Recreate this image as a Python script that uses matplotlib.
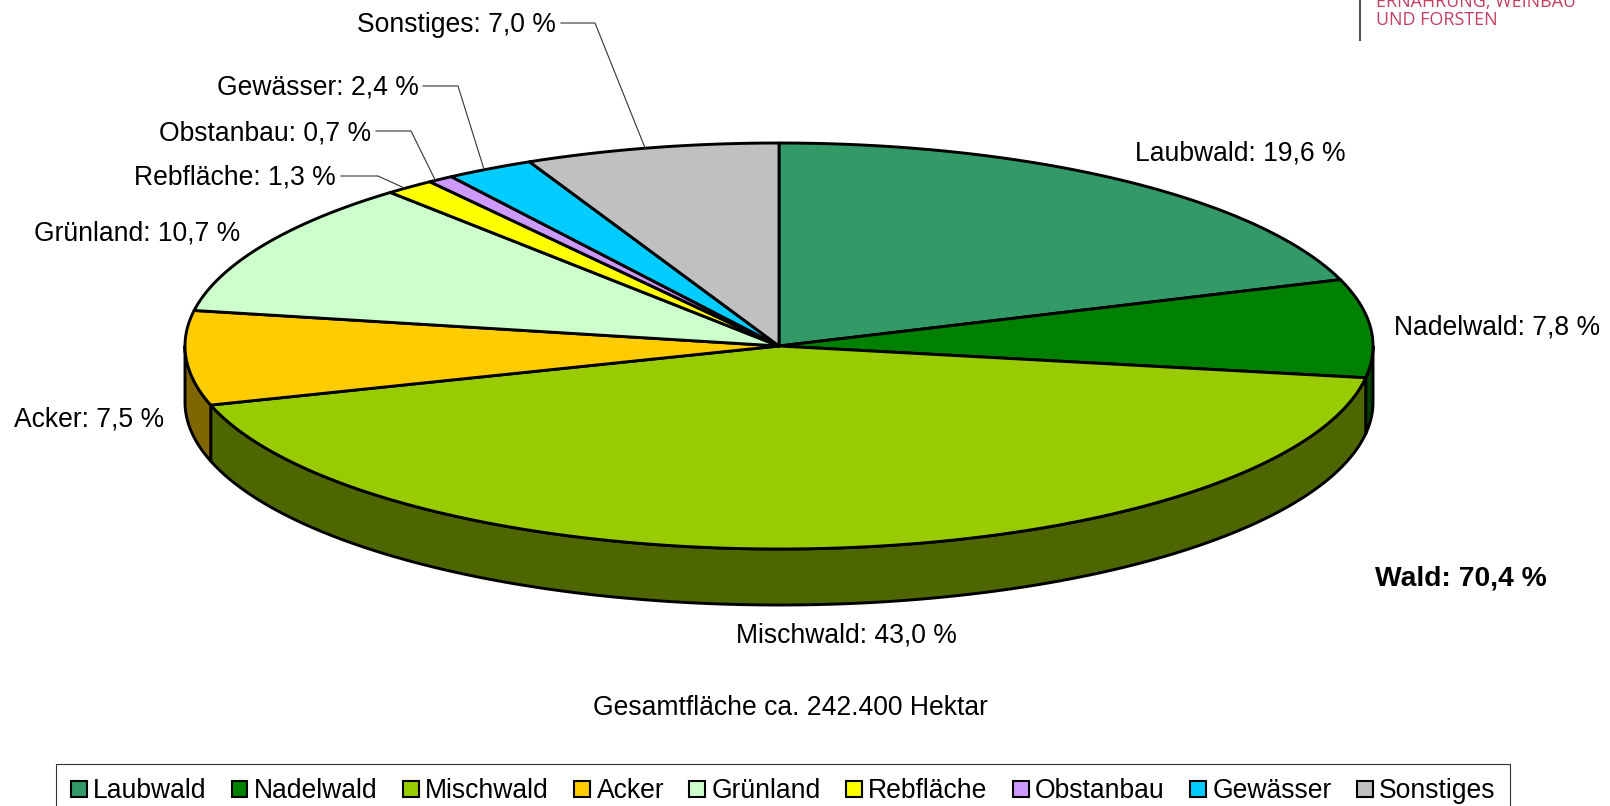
# -*- coding: utf-8 -*-

import numpy as np
import matplotlib as mpl
mpl.use('Agg')
import matplotlib.pyplot as plt
from matplotlib.patches import Polygon, Patch

mpl.rcParams.update({
    "font.family": ["Liberation Sans", "DejaVu Sans"],
    "font.size": 19.1,
})

names = ['Laubwald', 'Nadelwald', 'Mischwald', 'Acker', 'Grünland',
         'Rebfläche', 'Obstanbau', 'Gewässer', 'Sonstiges']
# slice sizes as drawn, the printed labels differ slightly
shares = [19.7, 7.8, 42.8, 7.5, 10.85, 1.35, 0.7, 2.4, 6.9]
colors = ['#339966', '#008000', '#99cc00', '#ffcc00', '#ccffcc',
          '#ffff00', '#cc99ff', '#00ccff', '#c0c0c0']
side_colors = ['#1a4d33', '#004000', '#4d6600', '#806600', '#668066',
               '#808000', '#664d80', '#006680', '#606060']
labels = ['Laubwald: 19,6 %', 'Nadelwald: 7,8 %', 'Mischwald: 43,0 %',
          'Acker: 7,5 %', 'Grünland: 10,7 %', 'Rebfläche: 1,3 %',
          'Obstanbau: 0,7 %', 'Gewässer: 2,4 %', 'Sonstiges: 7,0 %']

# pie geometry in pixels
cx, cy = 779, 346
rx, ry = 594, 203
depth = 56
lw = 2.1


def rim(t0, t1, dy=0.0):
    t = np.radians(np.linspace(t0, t1, 200))
    return np.column_stack([cx + rx*np.sin(t), cy - ry*np.cos(t) + dy])


fig = plt.figure(figsize=(16.1, 8.06), dpi=100)
ax = fig.add_axes([0, 0, 1, 1])
ax.set_xlim(0, 1610)
ax.set_ylim(806, 0)
ax.axis('off')

edges = np.cumsum([0] + shares)*3.6

# side wall, only the front half shows
for i in range(len(shares)):
    a, b = max(edges[i], 90), min(edges[i+1], 270)
    if a >= b:
        continue
    pts = np.vstack([rim(a, b), rim(b, a, depth)])
    ax.add_patch(Polygon(pts, fc=side_colors[i], ec='black', lw=lw, joinstyle='round'))

# top of the pie
for i in range(len(shares)):
    pts = np.vstack([[cx, cy], rim(edges[i], edges[i+1])])
    ax.add_patch(Polygon(pts, fc=colors[i], ec='black', lw=lw, joinstyle='round'))

# labels: x, y, ha
label_pos = [(1240, 154, 'center'), (1497, 328, 'center'), (846, 635, 'center'),
             (89, 420, 'center'), (137, 234, 'center'), (336, 177, 'right'),
             (371, 133, 'right'), (419, 88, 'right'), (556, 25, 'right')]
for txt, (x, y, ha) in zip(labels, label_pos):
    ax.text(x, y, txt, ha=ha, va='center', color='black')

# leader lines for the small slices
leaders = {5: (341, 378, 176), 6: (376, 411, 131), 7: (423, 458, 86), 8: (561, 595, 23)}
for i, (x0, x1, y) in leaders.items():
    mid = (edges[i] + edges[i+1])/2 - 0.6
    end = rim(mid, mid)[0]
    ax.plot([x0, x1, end[0]], [y, y, end[1]], color='#333333', lw=0.8, solid_joinstyle='miter')

ax.text(1461, 578, 'Wald: 70,4 %', ha='center', va='center', fontweight='bold', fontsize=20.3)
ax.text(790, 708, 'Gesamtfläche ca. 242.400 Hektar', ha='center', va='center')

# cut off logo in the top right corner
ax.plot([1360, 1360], [0, 40], color='#555555', lw=1.5)
ax.text(1376, 2, 'ERNÄHRUNG, WEINBAU', family='Open Sans', fontsize=12.9, color='#c2405f',
        ha='left', va='center')
ax.text(1376, 20, 'UND FORSTEN', family='Open Sans', fontsize=12.9, color='#c2405f',
        ha='left', va='center')

handles = [Patch(fc=c, ec='black', lw=1.5) for c in colors]
leg = ax.legend(handles, names, ncol=9, loc='lower left', bbox_to_anchor=(56, 819),
                bbox_transform=ax.transData, fancybox=False, edgecolor='#333333',
                framealpha=1, borderaxespad=0, handlelength=0.6, handleheight=0.6,
                handletextpad=0.25, columnspacing=0.94, borderpad=0.55, fontsize=19.1)
leg.get_frame().set_linewidth(0.8)

fig.savefig('out.png', dpi=100)
